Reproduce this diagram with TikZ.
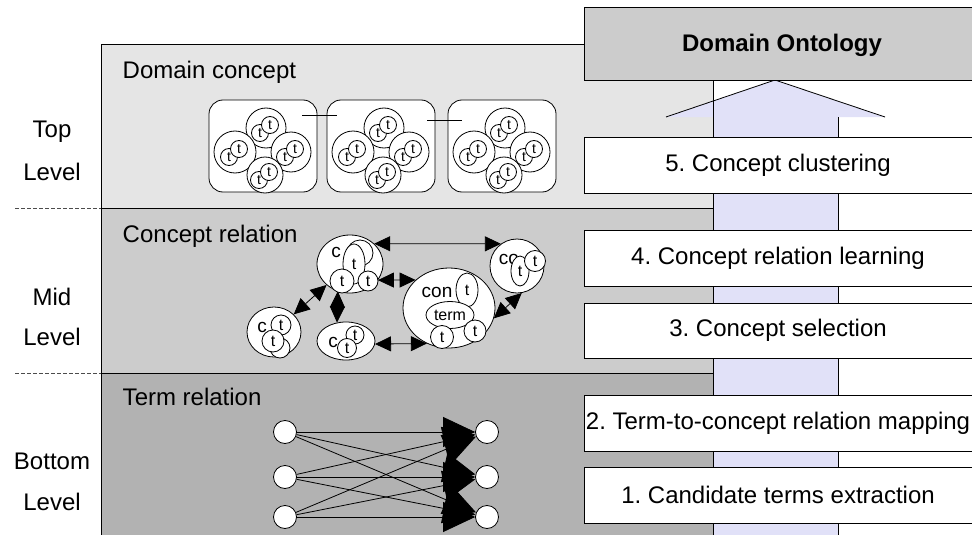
\documentclass[tikz,border=0pt]{standalone}
\usepackage{fontspec}
\setmainfont{Liberation Sans}
\usetikzlibrary{arrows.meta,shapes.geometric,calc}
\frenchspacing

\definecolor{topgray}{gray}{0.9}
\definecolor{midgray}{gray}{0.8}
\definecolor{botgray}{gray}{0.7}
\definecolor{ontogray}{gray}{0.8}
\definecolor{shaftblue}{RGB}{225,225,248}

\newcommand{\blobfont}{\fontsize{16}{16}\selectfont}
\newcommand{\smallblobfont}{\fontsize{14}{14}\selectfont}

\tikzset{
  panel/.style={draw, line width=0.8pt},
  stepbox/.style={draw, fill=white},
  cluster/.style={draw, fill=white, rounded corners=14pt, minimum width=108pt, minimum height=92pt},
  subcirc/.style={circle, draw, fill=white, inner sep=0pt},
  tsmall/.style={circle, draw, fill=white, inner sep=0pt, minimum size=17pt, font=\smallblobfont},
  relnode/.style={ellipse, draw, fill=white, inner sep=0pt},
  tblob/.style={circle, draw, fill=white, inner sep=0pt, minimum size=#1, font=\blobfont},
  tblob/.default=20pt,
  toval/.style n args={2}{ellipse, draw, fill=white, inner sep=0pt, minimum width=#1, minimum height=#2, font=\blobfont},
  ctext/.style={inner sep=0pt, font=\fontsize{19}{19}\selectfont},
  relarrow/.style={{Triangle[length=16pt,width=15pt]}-{Triangle[length=16pt,width=15pt]}},
  termarrow/.style={-{Triangle[length=32pt,width=30pt]}},
  termnode/.style={circle, draw, fill=white, inner sep=0pt, minimum size=23pt},
  levelsep/.style={dashed, dash pattern=on 4pt off 2pt, black!70}
}

\begin{document}
\begin{tikzpicture}[x=1pt,y=-1pt,font=\fontsize{24}{28}\selectfont,line width=0.8pt]
\useasboundingbox (0,0) rectangle (972,535);
\clip (0,0) rectangle (972,535);
\fill[white] (0,0) rectangle (972,535);

% level panels
\draw[panel,fill=topgray] (101,44) rectangle (713,208);
\draw[panel,fill=midgray] (101,208) rectangle (713,373);
\draw[panel,fill=botgray] (101,373) rectangle (713,545);
\draw[levelsep] (15,208) -- (101,208);
\draw[levelsep] (15,373) -- (101,373);

\foreach \y/\t [count=\k] in {132/Top,172/Level,297/Mid,337/Level,461/Bottom,502/Level}
  \node (lv\k) at (52,\y) {\t};

\node[anchor=base west] (ttlTop) at (119,78) {Domain concept};
\node[anchor=base west] (ttlMid) at (119,242) {Concept relation};
\node[anchor=base west] (ttlBot) at (119,405) {Term relation};

% top level: concept clusters
\foreach \x [count=\i] in {263,381,502}{
  \node[cluster] (dc\i) at (\x,146) {};
  \foreach \dx/\dy/\r [count=\j] in {3/-18/20,-28/6/21,28/6/20,2/29/18}{
    \node[subcirc,minimum size=2*\r pt] (dc\i-\j) at (\x+\dx,146+\dy) {};
    \node[tsmall] (t\i-\j-a) at (\x+\dx-6,146+\dy+5) {t};
    \node[tsmall] (t\i-\j-b) at (\x+\dx+4,146+\dy-3) {t};
  }
}
\draw ($(dc1.north east)+(-15,16)$) -- ($(dc2.north west)+(10,16)$);
\draw ($(dc2.north east)+(-8,21)$) -- ($(dc3.north west)+(14,21)$);

% mid level: concept relations
\node[relnode,minimum width=66pt,minimum height=58pt] (relTop) at (350,264) {};
\node[ctext] (relTopC) at (336,252) {c};
\node[tblob=26pt] (relTopB0) at (360,253) {};
\node[toval={22pt}{40pt}] (relTopB1) at (354,264) {t};
\node[tblob=24pt] (relTopB2) at (342,281) {t};
\node[tblob=20pt] (relTopB3) at (368,281) {t};

\node[relnode,minimum width=54pt,minimum height=50pt] (relLeft) at (274,332) {};
\node[ctext] (relLeftC) at (262,327) {c};
\node[tblob=20pt] (relLeftB0) at (281,325) {t};
\node[tblob=20pt] (relLeftB2) at (280,348) {};
\node[tblob=22pt] (relLeftB1) at (273,341) {t};

\node[relnode,minimum width=58pt,minimum height=38pt] (relLow) at (346,341) {};
\node[ctext] (relLowC) at (333,342) {c};
\node[tblob=18pt] (relLowB0) at (355,335) {t};
\node[tblob=19pt] (relLowB1) at (347,348) {t};

\node[relnode,minimum width=92pt,minimum height=80pt] (relBig) at (449,308) {};
\node[ctext] (relBigC) at (437,292) {con};
\node[toval={22pt}{34pt}] (relBigB0) at (467,290) {t};
\node[toval={48pt}{27pt}] (relBigTerm) at (450,315) {term};
\node[tblob=23pt] (relBigB1) at (442,337) {t};
\node[tblob=22pt] (relBigB2) at (475,331) {t};

\node[relnode,minimum width=54pt,minimum height=54pt] (relRight) at (517,266) {};
\node[ctext] (relRightC) at (509,259) {co};
\node[toval={18pt}{30pt}] (relRightB0) at (520,271) {t};
\node[tblob=21pt] (relRightB1) at (535,261) {t};

\draw[relarrow] (relTop.40) -- (relRight.126);
\draw[relarrow] (relTop.-30) -- (relBig.140);
\draw[relarrow] (relTop.246) -- (relLow.116);
\draw[relarrow] (relTop) -- (relLeft);
\draw[relarrow] (relLow.-6) -- (relBig.238);
\draw[relarrow] (relBig.-13) -- (relRight.-80);

% bottom level: term relations
\foreach \y [count=\i] in {432,477,517}{
  \node[termnode] (l\i) at (285,\y) {};
  \node[termnode] (r\i) at (487,\y) {};
}
\foreach \i in {1,2,3}
  \foreach \j in {1,2,3}
    \draw[termarrow] (l\i) -- (r\j);

% process arrow
\fill[shaftblue] (713,545) -- (713,117) -- (666,117) -- (775,80) -- (885,117) -- (838,117) -- (838,545) -- cycle;
\draw (713,80) -- (713,545);
\draw (838,117) -- (838,545);
\draw (666,117) -- (775,80) -- (885,117);

% ontology and steps
\draw[fill=ontogray] (584,7) rectangle (990,80);
\node[font=\fontsize{24}{28}\selectfont\bfseries] (onto) at (782,45) {Domain Ontology};
\foreach \ya/\yb/\t [count=\k] in {137/193/5. Concept clustering,
    230/286/4. Concept relation learning,
    303/358/3. Concept selection,
    395/451/2. Term-to-concept relation mapping,
    467/523/1. Candidate terms extraction}{
  \draw[stepbox] (584,\ya) rectangle (990,\yb);
  \node (step\k) at (778,{(\ya+\yb)/2}) {\t};
}
\end{tikzpicture}
\end{document}
